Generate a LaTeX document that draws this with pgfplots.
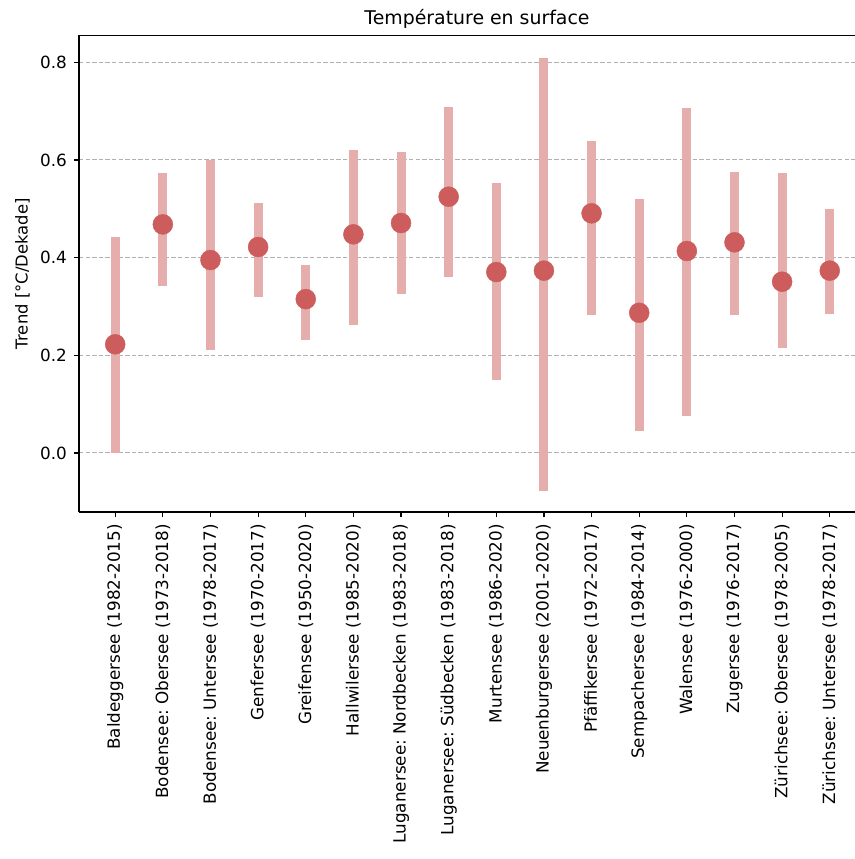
\documentclass[border=0pt]{standalone}
\usepackage{fontspec}
\setmainfont{DejaVu Sans}
\usepackage{pgfplots}
\pgfplotsset{compat=1.18}
\usepackage{pgfplotstable}
\frenchspacing
\definecolor{dotc}{HTML}{CD5C5C}
\definecolor{barc}{HTML}{E6ADAD}
\definecolor{gridc}{HTML}{B0B0B0}
\pgfplotstableread{
x y lo hi
0 0.2225 0.0000 0.4415
1 0.4680 0.3420 0.5730
2 0.3950 0.2100 0.6000
3 0.4217 0.3200 0.5120
4 0.3150 0.2310 0.3840
5 0.4476 0.2627 0.6210
6 0.4708 0.3255 0.6160
7 0.5247 0.3596 0.7090
8 0.3705 0.1500 0.5520
9 0.3733 -0.0770 0.8090
10 0.4906 0.2830 0.6390
11 0.2870 0.0444 0.5200
12 0.4135 0.0764 0.7055
13 0.4313 0.2818 0.5750
14 0.3507 0.2156 0.5725
15 0.3733 0.2850 0.5000
}\data
\begin{document}
\frenchspacing
\begin{tikzpicture}
\begin{axis}[
  width=398pt, height=238.25pt, scale only axis,
  xmin=-0.76, xmax=15.95, ymin=-0.1208, ymax=0.8547,
  axis lines*=left,
  axis line style={line width=0.6pt, black, -},
  xtick={0,...,15},
  xticklabels={Baldeggersee (1982-2015), Bodensee: Obersee (1973-2018), Bodensee: Untersee (1978-2017), Genfersee (1970-2017), Greifensee (1950-2020), Hallwilersee (1985-2020), Luganersee: Nordbecken (1983-2018), Luganersee: Südbecken (1983-2018), Murtensee (1986-2020), Neuenburgersee (2001-2020), Pfäffikersee (1972-2017), Sempachersee (1984-2014), Walensee (1976-2000), Zugersee (1976-2017), Zürichsee: Obersee (1978-2005), Zürichsee: Untersee (1978-2017)},
  ytick={0,0.2,0.4,0.6,0.8},
  yticklabel style={/pgf/number format/.cd, fixed, fixed zerofill, precision=1},
  /pgf/number format/assume math mode=true,
  tick align=outside, major tick length=2.5pt,
  tick style={line width=0.6pt, black},
  ymajorgrids,
  major grid style={gridc, line width=0.5pt, dash pattern=on 2.2pt off 1.1pt},
  ticklabel style={font=\fontsize{8.4}{10}\selectfont},
  xticklabel style={rotate=90, anchor=east},
  title={Température en surface},
  every axis title shift=0pt,
  title style={font=\fontsize{9.45}{11}\selectfont},
  ylabel={Trend [°C/Dekade]},
  ylabel style={font=\fontsize{8.2}{10}\selectfont},
  every axis y label/.append style={at={(axis description cs:-0.071,0.5)}, anchor=center},
]
\addplot[barc, only marks, mark=none, forget plot,
  error bars/.cd, y dir=both, y explicit, error mark=none,
  error bar style={line width=4.5pt, barc, solid}]
  table[x=x, y=y, y error plus expr=\thisrow{hi}-\thisrow{y}, y error minus expr=\thisrow{y}-\thisrow{lo}] {\data};
\addplot[only marks, mark=*, mark size=5pt, mark options={fill=dotc, draw=dotc, line width=0.2pt}]
  table[x=x, y=y] {\data};
\draw[line width=0.6pt, black] (rel axis cs:0,1) -- (rel axis cs:1,1);
\end{axis}
\pgfresetboundingbox
\path ([xshift=-39.5pt, yshift=-173.5pt]current axis.south west) rectangle ([xshift=387.5pt, yshift=17.75pt]current axis.north west);
\end{tikzpicture}
\end{document}
